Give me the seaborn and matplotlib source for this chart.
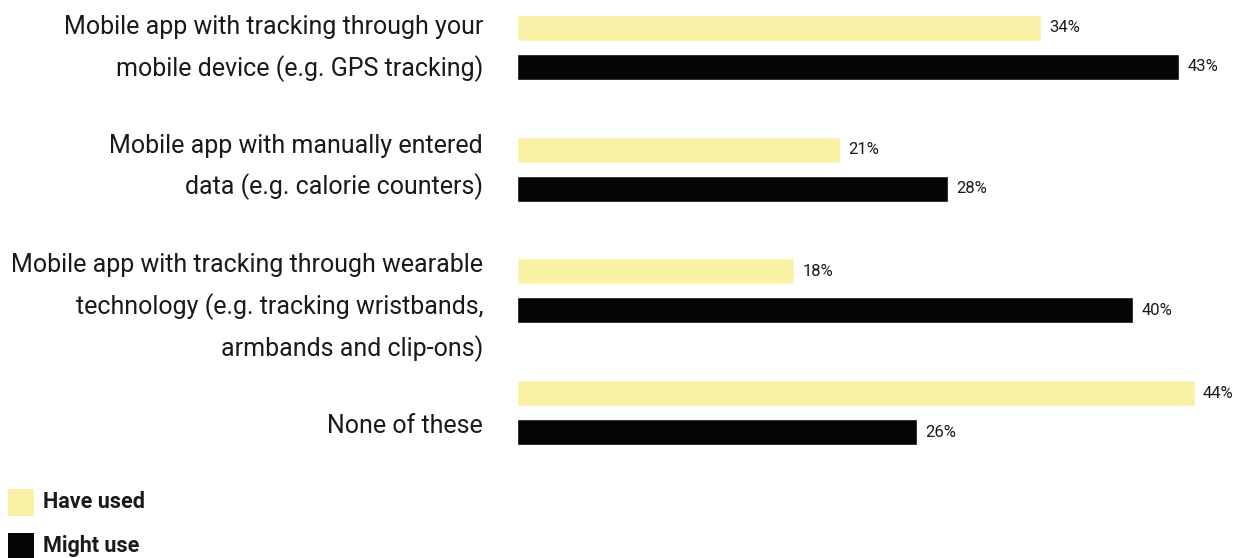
import matplotlib
matplotlib.use("Agg")
import matplotlib.pyplot as plt
import matplotlib.transforms as mtransforms
import seaborn as sns
import pandas as pd
from matplotlib.patches import Rectangle

categories = [
    "Mobile app with tracking through your\nmobile device (e.g. GPS tracking)",
    "Mobile app with manually entered\ndata (e.g. calorie counters)",
    "Mobile app with tracking through wearable\ntechnology (e.g. tracking wristbands,\narmbands and clip-ons)",
    "None of these",
]
series = ["Have used", "Might use"]
have_used = [34, 21, 18, 44]
might_use = [43, 28, 40, 26]
colors = ["#F9F2A6", "#050505"]

df = pd.DataFrame({
    "category": categories * 2,
    "series": [series[0]] * 4 + [series[1]] * 4,
    "value": have_used + might_use,
})

sns.set_theme(style="white")
plt.rcParams["font.family"] = ["Roboto", "DejaVu Sans"]

W, H = 1242, 558
fig = plt.figure(figsize=(W / 100, H / 100), dpi=100)
ax = fig.add_axes([517 / W, (H - 460) / H, (W - 517) / W, 460 / H])

sns.barplot(data=df, y="category", x="value", hue="series", order=categories,
            hue_order=series, palette=colors, orient="h", width=0.64, gap=0.33,
            legend=False, ax=ax, saturation=1)

ax.set_xlim(0, 725 / 15.4)
ax.set_ylim(3.39, -0.39)
ax.set_xlabel("")
ax.set_ylabel("")
ax.set_xticks([])
ax.set_yticks([])
for s in ax.spines.values():
    s.set_visible(False)

# category labels, right aligned left of the bars (vertical nudges in pixels)
label_dy = [-10, -13, 6, 11]
for i, (cat, dy) in enumerate(zip(categories, label_dy)):
    off = mtransforms.ScaledTranslation(-34 / 100, -dy / 100, fig.dpi_scale_trans)
    ax.text(0, i, cat, transform=ax.get_yaxis_transform() + off, ha="right",
            va="center_baseline", multialignment="right", linespacing=1.75,
            fontsize=18, color="#1a1a1a")

for cont in ax.containers:
    ax.bar_label(cont, fmt="%d%%", padding=6, fontsize=12, color="#1a1a1a")

# legend (figure pixel coords)
legend_rows = [(489, 516), (533, 559)]
for (top, bot), c, s in zip(legend_rows, colors, series):
    fig.add_artist(Rectangle((8 / W, (H - bot) / H), 26 / W, (bot - top) / H,
                             transform=fig.transFigure, facecolor=c, edgecolor="none"))
    fig.text(43 / W, (H - (top + bot) / 2) / H, s, fontsize=15.5, fontweight="bold",
             color="#1a1a1a", va="center", ha="left")

fig.savefig("out.png", dpi=100)
